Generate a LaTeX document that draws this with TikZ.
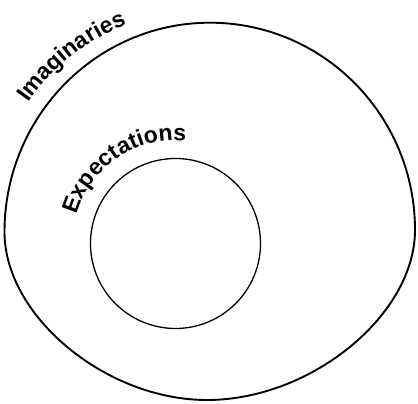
\documentclass[tikz,border=0pt]{standalone}
\usepackage{fontspec}
\setmainfont{Liberation Sans}
\usetikzlibrary{decorations.text}

\begin{document}
\begin{tikzpicture}[x=1pt, y=1pt,
  outerline/.style={line width=1.9pt},
  innerline/.style={line width=1.3pt},
  arclabel/.style={decorate, decoration={text along path, text align=center,
    text={|\fontsize{23}{27}\selectfont\bfseries|#1}}}]
  \useasboundingbox (0,0) rectangle (418,404);
  \coordinate (outerc) at (210,174);
  \coordinate (innerc) at (175.5,160.5);
  \coordinate (top) at (210,381.3);
  \coordinate (right) at (415,174);
  \coordinate (bottom) at (207,4);
  \coordinate (left) at (4.5,172);

  % Imaginaries boundary
  \draw[outerline] (top) .. controls (323.2,381.3) and (415,288.4) .. (right)
    .. controls (415,89) and (311,4) .. (bottom)
    .. controls (105.8,4) and (4.5,88) .. (left)
    .. controls (4.5,287.5) and (96.6,381.3) .. (top) -- cycle;

  % Expectations circle
  \draw[innerline] (innerc) circle[radius=85];

  % Curved labels
  \path[arclabel=Imaginaries] (outerc) ++(150:222) arc[start angle=150, end angle=107, radius=222];
  \path[arclabel=Expectations] (innerc) ++(170:103) arc[start angle=170, end angle=78, radius=103];
\end{tikzpicture}
\end{document}
